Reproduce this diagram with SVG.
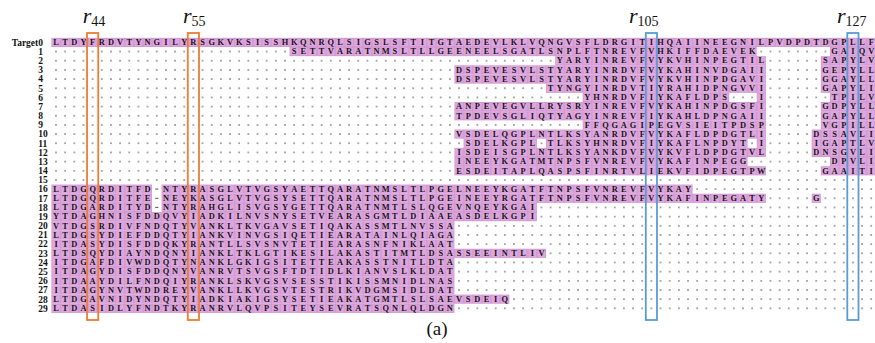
<svg xmlns="http://www.w3.org/2000/svg" width="875" height="343" viewBox="0 0 875 343">
<style>
.s{font-family:"Liberation Serif","Times New Roman",serif;font-weight:bold;font-size:8.4px;fill:#151515;text-anchor:middle}
.rl{font-family:"Liberation Serif","Times New Roman",serif;font-weight:bold;font-size:9.5px;fill:#111}
.pk{fill:url(#cell)}
.ob{fill:none;stroke:#ED7D31;stroke-width:1.8}
.bb{fill:none;stroke:#5B9BD5;stroke-width:1.8}
.lab{font-family:"Liberation Serif","Times New Roman",serif;font-style:italic;font-size:22px;fill:#111}
.sub{font-style:normal;font-size:14px}
.gap{fill:#fff}
.dash{fill:#555}
</style>
<defs>
<pattern id="cell" patternUnits="userSpaceOnUse" x="51.4" y="37.815" width="9.16" height="9.17">
<rect width="9.16" height="9.17" fill="#DFA7DF"/>
<rect x="0.3" y="0.3" width="8.56" height="8.57" fill="none" stroke="#CF95CF" stroke-width="0.6"/>
</pattern>
<pattern id="dots" patternUnits="userSpaceOnUse" x="51.4" y="37.815" width="9.16" height="9.17">
<rect x="3.83" y="3.84" width="1.5" height="1.5" fill="#777"/>
</pattern>
</defs>
<rect width="875" height="343" fill="#fff"/>
<g id="dots-bg"><rect x="51.4" y="46.99" width="824.4" height="265.93" fill="url(#dots)"/></g>
<g id="cells">
<rect class="pk" x="51.4" y="37.82" width="824.4" height="9.17"/>
<rect class="pk" x="289.56" y="46.99" width="467.16" height="9.17"/><rect class="pk" x="830" y="46.99" width="45.8" height="9.17"/>
<rect class="pk" x="555.2" y="56.16" width="210.68" height="9.17"/><rect class="pk" x="820.84" y="56.16" width="54.96" height="9.17"/>
<rect class="pk" x="454.44" y="65.33" width="311.44" height="9.17"/><rect class="pk" x="820.84" y="65.33" width="54.96" height="9.17"/>
<rect class="pk" x="454.44" y="74.5" width="311.44" height="9.17"/><rect class="pk" x="820.84" y="74.5" width="54.96" height="9.17"/>
<rect class="pk" x="546.04" y="83.67" width="219.84" height="9.17"/><rect class="pk" x="820.84" y="83.67" width="54.96" height="9.17"/>
<rect class="pk" x="582.68" y="92.84" width="146.56" height="9.17"/><rect class="pk" x="756.72" y="92.84" width="9.16" height="9.17"/><rect class="pk" x="830" y="92.84" width="45.8" height="9.17"/>
<rect class="pk" x="454.44" y="102.01" width="311.44" height="9.17"/><rect class="pk" x="820.84" y="102.01" width="54.96" height="9.17"/>
<rect class="pk" x="454.44" y="111.18" width="311.44" height="9.17"/><rect class="pk" x="820.84" y="111.18" width="54.96" height="9.17"/>
<rect class="pk" x="582.68" y="120.35" width="183.2" height="9.17"/><rect class="pk" x="820.84" y="120.35" width="54.96" height="9.17"/>
<rect class="pk" x="454.44" y="129.52" width="311.44" height="9.17"/><rect class="pk" x="811.68" y="129.52" width="64.12" height="9.17"/>
<rect class="pk" x="463.6" y="138.69" width="73.28" height="9.17"/><rect class="pk" x="546.04" y="138.69" width="201.52" height="9.17"/><rect class="pk" x="756.72" y="138.69" width="9.16" height="9.17"/><rect class="pk" x="811.68" y="138.69" width="64.12" height="9.17"/>
<rect class="pk" x="454.44" y="147.86" width="311.44" height="9.17"/><rect class="pk" x="811.68" y="147.86" width="64.12" height="9.17"/>
<rect class="pk" x="454.44" y="157.03" width="293.12" height="9.17"/><rect class="pk" x="830" y="157.03" width="45.8" height="9.17"/>
<rect class="pk" x="454.44" y="166.2" width="311.44" height="9.17"/><rect class="pk" x="820.84" y="166.2" width="54.96" height="9.17"/>
<rect class="pk" x="51.4" y="184.54" width="100.76" height="9.17"/><rect class="pk" x="161.32" y="184.54" width="531.28" height="9.17"/>
<rect class="pk" x="51.4" y="193.71" width="100.76" height="9.17"/><rect class="pk" x="161.32" y="193.71" width="604.56" height="9.17"/><rect class="pk" x="811.68" y="193.71" width="9.16" height="9.17"/>
<rect class="pk" x="51.4" y="202.88" width="100.76" height="9.17"/><rect class="pk" x="161.32" y="202.88" width="375.56" height="9.17"/>
<rect class="pk" x="51.4" y="212.05" width="485.48" height="9.17"/>
<rect class="pk" x="51.4" y="221.22" width="403.04" height="9.17"/>
<rect class="pk" x="51.4" y="230.39" width="403.04" height="9.17"/>
<rect class="pk" x="51.4" y="239.56" width="403.04" height="9.17"/>
<rect class="pk" x="51.4" y="248.73" width="494.64" height="9.17"/>
<rect class="pk" x="51.4" y="257.9" width="403.04" height="9.17"/>
<rect class="pk" x="51.4" y="267.07" width="403.04" height="9.17"/>
<rect class="pk" x="51.4" y="276.24" width="403.04" height="9.17"/>
<rect class="pk" x="51.4" y="285.41" width="403.04" height="9.17"/>
<rect class="pk" x="51.4" y="294.58" width="458" height="9.17"/>
<rect class="pk" x="51.4" y="303.75" width="403.04" height="9.17"/>
<rect class="gap" x="152.16" y="184.54" width="9.16" height="27.51"/>
<rect class="dash" x="155.2" y="188.6" width="3.2" height="1"/>
<rect class="dash" x="155.2" y="197.8" width="3.2" height="1"/>
<rect class="dash" x="155.2" y="206.9" width="3.2" height="1"/>
</g>
<g id="row-labels">
<text class="rl" x="43" y="45.7" text-anchor="end">Target0</text>
<text class="rl" x="38.3" y="54.9">1</text>
<text class="rl" x="38.3" y="64.1">2</text>
<text class="rl" x="38.3" y="73.2">3</text>
<text class="rl" x="38.3" y="82.4">4</text>
<text class="rl" x="38.3" y="91.6">5</text>
<text class="rl" x="38.3" y="100.7">6</text>
<text class="rl" x="38.3" y="109.9">7</text>
<text class="rl" x="38.3" y="119.1">8</text>
<text class="rl" x="38.3" y="128.2">9</text>
<text class="rl" x="38.3" y="137.4">10</text>
<text class="rl" x="38.3" y="146.6">11</text>
<text class="rl" x="38.3" y="155.7">12</text>
<text class="rl" x="38.3" y="164.9">13</text>
<text class="rl" x="38.3" y="174.1">14</text>
<text class="rl" x="38.3" y="183.3">15</text>
<text class="rl" x="38.3" y="192.4">16</text>
<text class="rl" x="38.3" y="201.6">17</text>
<text class="rl" x="38.3" y="210.8">18</text>
<text class="rl" x="38.3" y="219.9">19</text>
<text class="rl" x="38.3" y="229.1">20</text>
<text class="rl" x="38.3" y="238.3">21</text>
<text class="rl" x="38.3" y="247.4">22</text>
<text class="rl" x="38.3" y="256.6">23</text>
<text class="rl" x="38.3" y="265.8">24</text>
<text class="rl" x="38.3" y="274.9">25</text>
<text class="rl" x="38.3" y="284.1">26</text>
<text class="rl" x="38.3" y="293.3">27</text>
<text class="rl" x="38.3" y="302.5">28</text>
<text class="rl" x="38.3" y="311.6">29</text>
</g>
<g id="sequences">
<text class="s" transform="translate(56,45.15)" x="0 9.16 18.32 27.48 36.64 45.8 54.96 64.12 73.28 82.44 91.6 100.76 109.92 119.08 128.24 137.4 146.56 155.72 164.88 174.04 183.2 192.36 201.52 210.68 219.84 229 238.16 247.32 256.48 265.64 274.8 283.96 293.12 302.28 311.44 320.6 329.76 338.92 348.08 357.24 366.4 375.56 384.72 393.88 403.04 412.2 421.36 430.52 439.68 448.84 458 467.16 476.32 485.48 494.64 503.8 512.96 522.12 531.28 540.44 549.6 558.76 567.92 577.08 586.24 595.4 604.56 613.72 622.88 632.04 641.2 650.36 659.52 668.68 677.84 687 696.16 705.32 714.48 723.64 732.8 741.96 751.12 760.28 769.44 778.6 787.76 796.92 806.08 815.24">LTDYFRDVTYNGILYRSGKVKSISSHKQNRQLSIGSLSFTITGTAEDEVLKLVQNGVSFLDRGITIHQAIINEEGNILPVDPDTDGPLLF</text>
<text class="s" transform="translate(294.16,54.32)" x="0 9.16 18.32 27.48 36.64 45.8 54.96 64.12 73.28 82.44 91.6 100.76 109.92 119.08 128.24 137.4 146.56 155.72 164.88 174.04 183.2 192.36 201.52 210.68 219.84 229 238.16 247.32 256.48 265.64 274.8 283.96 293.12 302.28 311.44 320.6 329.76 338.92 348.08 357.24 366.4 375.56 384.72 393.88 403.04 412.2 421.36 430.52 439.68 448.84 458 467.16 476.32 485.48 494.64 503.8 512.96 522.12 531.28 540.44 549.6 558.76 567.92 577.08">SETTVARATNMSLTLLGEENEELSGATLSNPLFTNREVFVHKIFFDAEVEK&#160;&#160;&#160;&#160;&#160;&#160;&#160;&#160;GAIQV</text>
<text class="s" transform="translate(559.8,63.49)" x="0 9.16 18.32 27.48 36.64 45.8 54.96 64.12 73.28 82.44 91.6 100.76 109.92 119.08 128.24 137.4 146.56 155.72 164.88 174.04 183.2 192.36 201.52 210.68 219.84 229 238.16 247.32 256.48 265.64 274.8 283.96 293.12 302.28 311.44 320.6 329.76 338.92 348.08 357.24 366.4 375.56 384.72 393.88 403.04 412.2">YARYINREVFVYKVHINPEGTIL&#160;&#160;&#160;&#160;&#160;&#160;SAPYLV</text>
<text class="s" transform="translate(459.04,72.66)" x="0 9.16 18.32 27.48 36.64 45.8 54.96 64.12 73.28 82.44 91.6 100.76 109.92 119.08 128.24 137.4 146.56 155.72 164.88 174.04 183.2 192.36 201.52 210.68 219.84 229 238.16 247.32 256.48 265.64 274.8 283.96 293.12 302.28 311.44 320.6 329.76 338.92 348.08 357.24 366.4 375.56 384.72 393.88 403.04 412.2">DSPEVESVLSTYARYINRDVFVYKAHINVDGAII&#160;&#160;&#160;&#160;&#160;&#160;GEPYLL</text>
<text class="s" transform="translate(459.04,81.83)" x="0 9.16 18.32 27.48 36.64 45.8 54.96 64.12 73.28 82.44 91.6 100.76 109.92 119.08 128.24 137.4 146.56 155.72 164.88 174.04 183.2 192.36 201.52 210.68 219.84 229 238.16 247.32 256.48 265.64 274.8 283.96 293.12 302.28 311.44 320.6 329.76 338.92 348.08 357.24 366.4 375.56 384.72 393.88 403.04 412.2">DSPEVESVLSTYARYINRDVFVYKVHINPDGAVI&#160;&#160;&#160;&#160;&#160;&#160;GGAYLL</text>
<text class="s" transform="translate(550.64,91)" x="0 9.16 18.32 27.48 36.64 45.8 54.96 64.12 73.28 82.44 91.6 100.76 109.92 119.08 128.24 137.4 146.56 155.72 164.88 174.04 183.2 192.36 201.52 210.68 219.84 229 238.16 247.32 256.48 265.64 274.8 283.96 293.12 302.28 311.44 320.6 329.76 338.92 348.08 357.24 366.4 375.56 384.72 393.88 403.04 412.2">TYNGYINRDVTIYRAHIDPNGVVI&#160;&#160;&#160;&#160;&#160;&#160;GAPYLI</text>
<text class="s" transform="translate(587.28,100.17)" x="0 9.16 18.32 27.48 36.64 45.8 54.96 64.12 73.28 82.44 91.6 100.76 109.92 119.08 128.24 137.4 146.56 155.72 164.88 174.04 183.2 192.36 201.52 210.68 219.84 229 238.16 247.32 256.48 265.64 274.8 283.96 293.12 302.28 311.44 320.6 329.76 338.92 348.08 357.24 366.4 375.56 384.72 393.88 403.04 412.2">YHNRDVFIYKAFLDPS&#160;&#160;&#160;I&#160;&#160;&#160;&#160;&#160;&#160;&#160;TPILV</text>
<text class="s" transform="translate(459.04,109.34)" x="0 9.16 18.32 27.48 36.64 45.8 54.96 64.12 73.28 82.44 91.6 100.76 109.92 119.08 128.24 137.4 146.56 155.72 164.88 174.04 183.2 192.36 201.52 210.68 219.84 229 238.16 247.32 256.48 265.64 274.8 283.96 293.12 302.28 311.44 320.6 329.76 338.92 348.08 357.24 366.4 375.56 384.72 393.88 403.04 412.2">ANPEVEGVLLRYSRYINREVFVYKAHINPDGSFI&#160;&#160;&#160;&#160;&#160;&#160;GDPYLL</text>
<text class="s" transform="translate(459.04,118.51)" x="0 9.16 18.32 27.48 36.64 45.8 54.96 64.12 73.28 82.44 91.6 100.76 109.92 119.08 128.24 137.4 146.56 155.72 164.88 174.04 183.2 192.36 201.52 210.68 219.84 229 238.16 247.32 256.48 265.64 274.8 283.96 293.12 302.28 311.44 320.6 329.76 338.92 348.08 357.24 366.4 375.56 384.72 393.88 403.04 412.2">TPDEVSGLIQTYAGYINREVFIYKAHLDPNGAII&#160;&#160;&#160;&#160;&#160;&#160;GAPYLL</text>
<text class="s" transform="translate(587.28,127.68)" x="0 9.16 18.32 27.48 36.64 45.8 54.96 64.12 73.28 82.44 91.6 100.76 109.92 119.08 128.24 137.4 146.56 155.72 164.88 174.04 183.2 192.36 201.52 210.68 219.84 229 238.16 247.32 256.48 265.64 274.8 283.96 293.12 302.28 311.44 320.6 329.76 338.92 348.08 357.24 366.4 375.56 384.72 393.88 403.04 412.2">FFQGAGIPEGVSIEITPDSP&#160;&#160;&#160;&#160;&#160;&#160;VGPILL</text>
<text class="s" transform="translate(459.04,136.85)" x="0 9.16 18.32 27.48 36.64 45.8 54.96 64.12 73.28 82.44 91.6 100.76 109.92 119.08 128.24 137.4 146.56 155.72 164.88 174.04 183.2 192.36 201.52 210.68 219.84 229 238.16 247.32 256.48 265.64 274.8 283.96 293.12 302.28 311.44 320.6 329.76 338.92 348.08 357.24 366.4 375.56 384.72 393.88 403.04 412.2">VSDELQGPLNTLKSYANRDVFVYKAFLDPDGTLI&#160;&#160;&#160;&#160;&#160;DSSAVLI</text>
<text class="s" transform="translate(468.2,146.02)" x="0 9.16 18.32 27.48 36.64 45.8 54.96 64.12 73.28 82.44 91.6 100.76 109.92 119.08 128.24 137.4 146.56 155.72 164.88 174.04 183.2 192.36 201.52 210.68 219.84 229 238.16 247.32 256.48 265.64 274.8 283.96 293.12 302.28 311.44 320.6 329.76 338.92 348.08 357.24 366.4 375.56 384.72 393.88 403.04 412.2">SDELKGPL&#160;TLKSYHNRDVFIYKAFLNPDYT&#160;I&#160;&#160;&#160;&#160;&#160;IGAPTLV</text>
<text class="s" transform="translate(459.04,155.19)" x="0 9.16 18.32 27.48 36.64 45.8 54.96 64.12 73.28 82.44 91.6 100.76 109.92 119.08 128.24 137.4 146.56 155.72 164.88 174.04 183.2 192.36 201.52 210.68 219.84 229 238.16 247.32 256.48 265.64 274.8 283.96 293.12 302.28 311.44 320.6 329.76 338.92 348.08 357.24 366.4 375.56 384.72 393.88 403.04 412.2">ISDEISGPLNTLKSYANKDVFVYKVFLDPDGTVL&#160;&#160;&#160;&#160;&#160;DNSGVLI</text>
<text class="s" transform="translate(459.04,164.36)" x="0 9.16 18.32 27.48 36.64 45.8 54.96 64.12 73.28 82.44 91.6 100.76 109.92 119.08 128.24 137.4 146.56 155.72 164.88 174.04 183.2 192.36 201.52 210.68 219.84 229 238.16 247.32 256.48 265.64 274.8 283.96 293.12 302.28 311.44 320.6 329.76 338.92 348.08 357.24 366.4 375.56 384.72 393.88 403.04 412.2">INEEYKGATMTNPSFVNREVFVYKAFINPEGG&#160;&#160;&#160;&#160;&#160;&#160;&#160;&#160;&#160;DPVLI</text>
<text class="s" transform="translate(459.04,173.53)" x="0 9.16 18.32 27.48 36.64 45.8 54.96 64.12 73.28 82.44 91.6 100.76 109.92 119.08 128.24 137.4 146.56 155.72 164.88 174.04 183.2 192.36 201.52 210.68 219.84 229 238.16 247.32 256.48 265.64 274.8 283.96 293.12 302.28 311.44 320.6 329.76 338.92 348.08 357.24 366.4 375.56 384.72 393.88 403.04 412.2">ESDEITAPLQASPSFINRTVLIEKVFIDPEGTPW&#160;&#160;&#160;&#160;&#160;&#160;GAAITI</text>
<text class="s" transform="translate(56,191.87)" x="0 9.16 18.32 27.48 36.64 45.8 54.96 64.12 73.28 82.44 91.6 100.76 109.92 119.08 128.24 137.4 146.56 155.72 164.88 174.04 183.2 192.36 201.52 210.68 219.84 229 238.16 247.32 256.48 265.64 274.8 283.96 293.12 302.28 311.44 320.6 329.76 338.92 348.08 357.24 366.4 375.56 384.72 393.88 403.04 412.2 421.36 430.52 439.68 448.84 458 467.16 476.32 485.48 494.64 503.8 512.96 522.12 531.28 540.44 549.6 558.76 567.92 577.08 586.24 595.4 604.56 613.72 622.88 632.04 641.2 650.36 659.52 668.68 677.84 687 696.16 705.32 714.48 723.64 732.8 741.96 751.12 760.28 769.44 778.6 787.76 796.92 806.08 815.24">LTDGQRDITFD&#160;NTYRASGLVTVGSYAETTQARATNMSLTLPGELNEEYKGATFTNPSFVNREVFVYKAY</text>
<text class="s" transform="translate(56,201.04)" x="0 9.16 18.32 27.48 36.64 45.8 54.96 64.12 73.28 82.44 91.6 100.76 109.92 119.08 128.24 137.4 146.56 155.72 164.88 174.04 183.2 192.36 201.52 210.68 219.84 229 238.16 247.32 256.48 265.64 274.8 283.96 293.12 302.28 311.44 320.6 329.76 338.92 348.08 357.24 366.4 375.56 384.72 393.88 403.04 412.2 421.36 430.52 439.68 448.84 458 467.16 476.32 485.48 494.64 503.8 512.96 522.12 531.28 540.44 549.6 558.76 567.92 577.08 586.24 595.4 604.56 613.72 622.88 632.04 641.2 650.36 659.52 668.68 677.84 687 696.16 705.32 714.48 723.64 732.8 741.96 751.12 760.28 769.44 778.6 787.76 796.92 806.08 815.24">LTDGQRDITFE&#160;NEYKASGLVTVGSYSETTQARATNMSLTLPGEINEEYRGATFTNPSFVNREVFVYKAFINPEGATY&#160;&#160;&#160;&#160;&#160;G</text>
<text class="s" transform="translate(56,210.21)" x="0 9.16 18.32 27.48 36.64 45.8 54.96 64.12 73.28 82.44 91.6 100.76 109.92 119.08 128.24 137.4 146.56 155.72 164.88 174.04 183.2 192.36 201.52 210.68 219.84 229 238.16 247.32 256.48 265.64 274.8 283.96 293.12 302.28 311.44 320.6 329.76 338.92 348.08 357.24 366.4 375.56 384.72 393.88 403.04 412.2 421.36 430.52 439.68 448.84 458 467.16 476.32 485.48">LTDGARDITYD&#160;NTYRAHGLISVGSYGETTQARATNMTLSLQGEVNQEYKGAI</text>
<text class="s" transform="translate(56,219.38)" x="0 9.16 18.32 27.48 36.64 45.8 54.96 64.12 73.28 82.44 91.6 100.76 109.92 119.08 128.24 137.4 146.56 155.72 164.88 174.04 183.2 192.36 201.52 210.68 219.84 229 238.16 247.32 256.48 265.64 274.8 283.96 293.12 302.28 311.44 320.6 329.76 338.92 348.08 357.24 366.4 375.56 384.72 393.88 403.04 412.2 421.36 430.52 439.68 448.84 458 467.16 476.32 485.48">YTDAGHNISFDDQVYIADKILNVSNYSETVEARASGMTLDIAAEASDELKGPI</text>
<text class="s" transform="translate(56,228.55)" x="0 9.16 18.32 27.48 36.64 45.8 54.96 64.12 73.28 82.44 91.6 100.76 109.92 119.08 128.24 137.4 146.56 155.72 164.88 174.04 183.2 192.36 201.52 210.68 219.84 229 238.16 247.32 256.48 265.64 274.8 283.96 293.12 302.28 311.44 320.6 329.76 338.92 348.08 357.24 366.4 375.56 384.72 393.88 403.04 412.2">VTDGSRDIVFNDQTYVANKLTKVGAVSETIQAKASSMTLNVSSA</text>
<text class="s" transform="translate(56,237.72)" x="0 9.16 18.32 27.48 36.64 45.8 54.96 64.12 73.28 82.44 91.6 100.76 109.92 119.08 128.24 137.4 146.56 155.72 164.88 174.04 183.2 192.36 201.52 210.68 219.84 229 238.16 247.32 256.48 265.64 274.8 283.96 293.12 302.28 311.44 320.6 329.76 338.92 348.08 357.24 366.4 375.56 384.72 393.88 403.04 412.2">LTDGSYDIEFDDQTYIANKVINVGSIQETIEARATAINLQIAGA</text>
<text class="s" transform="translate(56,246.89)" x="0 9.16 18.32 27.48 36.64 45.8 54.96 64.12 73.28 82.44 91.6 100.76 109.92 119.08 128.24 137.4 146.56 155.72 164.88 174.04 183.2 192.36 201.52 210.68 219.84 229 238.16 247.32 256.48 265.64 274.8 283.96 293.12 302.28 311.44 320.6 329.76 338.92 348.08 357.24 366.4 375.56 384.72 393.88 403.04 412.2">ITDASYDISFDDQKYRANTLLSVSNVTETIEARASNFNIKLAAT</text>
<text class="s" transform="translate(56,256.06)" x="0 9.16 18.32 27.48 36.64 45.8 54.96 64.12 73.28 82.44 91.6 100.76 109.92 119.08 128.24 137.4 146.56 155.72 164.88 174.04 183.2 192.36 201.52 210.68 219.84 229 238.16 247.32 256.48 265.64 274.8 283.96 293.12 302.28 311.44 320.6 329.76 338.92 348.08 357.24 366.4 375.56 384.72 393.88 403.04 412.2 421.36 430.52 439.68 448.84 458 467.16 476.32 485.48">LTDSQYDIAYNDQNYIANKLTKLGTIKESILAKASTITMTLDSASSEEINTLIV</text>
<text class="s" transform="translate(56,265.23)" x="0 9.16 18.32 27.48 36.64 45.8 54.96 64.12 73.28 82.44 91.6 100.76 109.92 119.08 128.24 137.4 146.56 155.72 164.88 174.04 183.2 192.36 201.52 210.68 219.84 229 238.16 247.32 256.48 265.64 274.8 283.96 293.12 302.28 311.44 320.6 329.76 338.92 348.08 357.24 366.4 375.56 384.72 393.88 403.04 412.2">ITDGAFDIVWDDQTYNANKLGKIGSITETTEAKASSTNITLDTA</text>
<text class="s" transform="translate(56,274.4)" x="0 9.16 18.32 27.48 36.64 45.8 54.96 64.12 73.28 82.44 91.6 100.76 109.92 119.08 128.24 137.4 146.56 155.72 164.88 174.04 183.2 192.36 201.52 210.68 219.84 229 238.16 247.32 256.48 265.64 274.8 283.96 293.12 302.28 311.44 320.6 329.76 338.92 348.08 357.24 366.4 375.56 384.72 393.88 403.04 412.2">ITDAGYDISFDDQNYVANRVTSVGSFTDTIDLKIANVSLKLDAT</text>
<text class="s" transform="translate(56,283.57)" x="0 9.16 18.32 27.48 36.64 45.8 54.96 64.12 73.28 82.44 91.6 100.76 109.92 119.08 128.24 137.4 146.56 155.72 164.88 174.04 183.2 192.36 201.52 210.68 219.84 229 238.16 247.32 256.48 265.64 274.8 283.96 293.12 302.28 311.44 320.6 329.76 338.92 348.08 357.24 366.4 375.56 384.72 393.88 403.04 412.2">ITDAAYDILFNDQIYRANKLSKVGSVSESSTIKISSMNIDLNAS</text>
<text class="s" transform="translate(56,292.74)" x="0 9.16 18.32 27.48 36.64 45.8 54.96 64.12 73.28 82.44 91.6 100.76 109.92 119.08 128.24 137.4 146.56 155.72 164.88 174.04 183.2 192.36 201.52 210.68 219.84 229 238.16 247.32 256.48 265.64 274.8 283.96 293.12 302.28 311.44 320.6 329.76 338.92 348.08 357.24 366.4 375.56 384.72 393.88 403.04 412.2">ITDAGYNVTWDDREYVANKLLKVGSVTESTRIKVDGMSIDLDAT</text>
<text class="s" transform="translate(56,301.91)" x="0 9.16 18.32 27.48 36.64 45.8 54.96 64.12 73.28 82.44 91.6 100.76 109.92 119.08 128.24 137.4 146.56 155.72 164.88 174.04 183.2 192.36 201.52 210.68 219.84 229 238.16 247.32 256.48 265.64 274.8 283.96 293.12 302.28 311.44 320.6 329.76 338.92 348.08 357.24 366.4 375.56 384.72 393.88 403.04 412.2 421.36 430.52 439.68 448.84 458 467.16 476.32 485.48">LTDGAVNIDYNDQTYIADKIAKIGSYSETIEAKATGMTLSLSAEVSDEIQ</text>
<text class="s" transform="translate(56,311.08)" x="0 9.16 18.32 27.48 36.64 45.8 54.96 64.12 73.28 82.44 91.6 100.76 109.92 119.08 128.24 137.4 146.56 155.72 164.88 174.04 183.2 192.36 201.52 210.68 219.84 229 238.16 247.32 256.48 265.64 274.8 283.96 293.12 302.28 311.44 320.6 329.76 338.92 348.08 357.24 366.4 375.56 384.72 393.88 403.04 412.2">LTDASIDLYFNDTKYRANRVLQVPSITEYSEVRATSQNLQLDGN</text>
</g>
<g id="highlight-boxes">
<rect class="ob" x="87.04" y="33" width="11.2" height="287"/>
<rect class="ob" x="187.8" y="33" width="11.2" height="287"/>
<rect class="bb" x="645.8" y="33" width="11.2" height="287"/>
<rect class="bb" x="847.3" y="33" width="11.2" height="287"/>
</g>
<g id="residue-labels">
<text class="lab" x="82.7" y="22.5">r<tspan class="sub" dy="3.5">44</tspan></text>
<text class="lab" x="183" y="22.5">r<tspan class="sub" dy="3.5">55</tspan></text>
<text class="lab" x="629" y="22.5">r<tspan class="sub" dy="3.5">105</tspan></text>
<text class="lab" x="837" y="22.5">r<tspan class="sub" dy="3.5">127</tspan></text>
</g>
<text x="437" y="335" text-anchor="middle" font-family="Liberation Serif, Times New Roman, serif" font-size="19" fill="#111">(a)</text>
</svg>
